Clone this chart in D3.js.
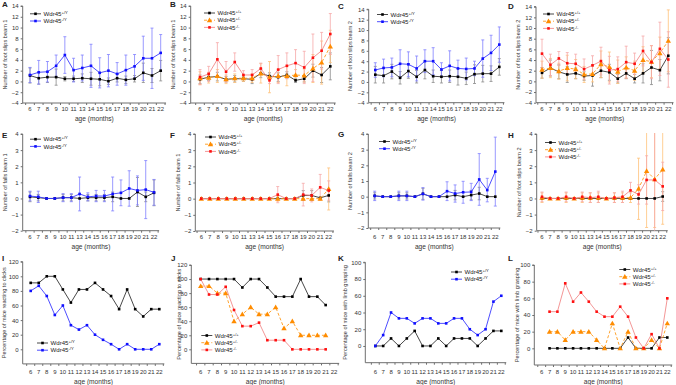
<!DOCTYPE html>
<html><head><meta charset="utf-8">
<script src="https://cdn.jsdelivr.net/npm/d3@7"></script>
<style>
html,body{margin:0;padding:0;background:#fff;}
svg{display:block;font-family:"Liberation Sans",Arial,sans-serif;}
</style></head>
<body>
<svg id="c" width="676" height="385"></svg>
<script>
// ---------- categories ----------
const monthsR12 = [6,7,8,9,10,11,13,14,15,16,17,18,19,20,21,22];
const monthsR3  = [6,7,8,9,10,11,12,13,14,15,16,17,18,19,20,21,22];
const ticksSlips = [-4,-2,0,2,4,6,8,10,12,14];
const ticksFalls = [-2,-1,0,1,2,3,4];
const ticksPct120 = [0,20,40,60,80,100,120];
const ticksPct100 = [0,20,40,60,80,100];

// ---------- A: foot slips beam 1 (hemizygous) ----------
const A_wt    = [1.1,0.6,0.8,0.8,0.5,0.5,0.6,0.5,0.4,0.05,0.6,0.3,0.5,1.6,1.1,2.0];
const A_wt_sd = [1.4,1.1,1.0,1.5,0.4,0.5,0.8,1.2,1.2,0.6,0.7,0.7,0.6,1.8,1.3,1.9];
const A_ko    = [1.2,1.7,1.8,2.9,4.9,2.1,2.5,2.9,1.6,2.0,1.4,2.1,2.8,4.3,4.3,5.3];
const A_ko_sd = [1.4,2.2,1.9,2.0,3.4,2.2,2.4,4.0,2.8,3.0,2.1,2.8,2.2,4.1,5.6,3.4];
// ---------- B: foot slips beam 1 (females) ----------
const B_wt     = [0.4,0.8,0.9,0.4,0.5,0.5,0.4,1.5,1.0,0.8,1.2,0.2,0.5,2.0,1.2,2.8];
const B_wt_sd  = [0.8,0.6,0.8,0.5,0.6,0.5,0.8,0.8,0.6,0.8,0.6,0.4,0.6,1.2,1.4,2.5];
const B_het    = [0.6,0.7,1.0,0.4,0.6,0.6,0.6,1.5,0.8,1.0,1.0,1.2,1.1,2.4,3.5,6.5];
const B_het_sd = [1.2,1.0,1.2,0.8,0.8,0.6,0.8,1.8,2.9,1.2,1.8,1.0,1.2,2.6,4.0,3.0];
const B_ko     = [0.8,1.4,4.1,1.8,3.6,1.2,1.2,2.4,0.2,2.2,2.9,3.4,2.6,4.4,5.7,8.8];
const B_ko_sd  = [1.4,1.4,3.1,1.9,1.7,0.8,1.0,1.0,0.6,2.6,2.4,2.5,3.0,4.4,3.4,3.8];
// ---------- C: foot slips beam 2 (hemizygous) ----------
const C_wt    = [1.4,1.2,2.0,0.8,2.1,1.0,2.3,1.1,1.0,1.1,1.0,0.7,1.5,1.6,1.6,2.9];
const C_wt_sd = [1.6,1.4,1.4,1.2,1.4,1.2,1.7,1.2,1.2,1.2,1.6,1.2,1.8,1.6,1.5,1.6];
const C_ko    = [2.3,2.7,2.8,3.5,3.4,2.6,4.0,4.0,2.4,3.1,2.6,2.5,2.6,4.5,5.6,7.2];
const C_ko_sd = [1.4,1.7,1.8,2.7,2.4,2.4,2.2,2.6,1.3,2.9,1.6,2.1,1.4,3.6,3.4,3.4];
// ---------- D: foot slips beam 2 (females) ----------
const D_wt     = [1.6,2.5,1.8,1.3,1.5,1.0,1.1,2.0,1.7,0.5,1.5,0.5,1.5,2.6,2.1,4.8];
const D_wt_sd  = [1.0,1.5,1.3,1.5,1.0,0.8,2.0,1.3,1.5,0.8,1.0,0.8,1.8,3.2,2.0,3.4];
const D_het    = [2.2,2.5,1.9,2.5,2.3,1.3,1.4,3.2,2.7,1.8,2.6,2.0,4.0,3.7,5.3,7.6];
const D_het_sd = [1.6,1.8,1.5,2.4,1.8,1.5,1.5,2.5,2.8,2.2,2.0,1.8,2.5,3.0,3.0,5.8];
const D_ko     = [5.2,3.1,4.3,3.4,3.3,2.3,3.0,3.8,2.1,2.3,3.6,3.3,5.7,3.6,6.1,4.1];
const D_ko_sd  = [2.7,2.0,1.3,2.0,1.8,1.9,1.8,2.6,2.6,2.3,3.0,2.0,2.8,3.1,5.0,5.2];
// ---------- E: falls beam 1 (hemizygous) ----------
const E_wt    = [0.1,0.05,0,0,0.05,0.05,0,0.05,0.05,0.05,0.1,0,0,0.4,0.1,0.35];
const E_wt_sd = [0.3,0.2,0,0,0.2,0.2,0,0.2,0.2,0.2,0.3,0,0,0.9,0.3,0.8];
const E_ko    = [0.15,0.1,0,0,0.05,0.05,0.28,0.1,0.15,0.15,0.28,0.35,0.62,0.5,0.55,0.38];
const E_ko_sd = [0.3,0.35,0,0,0.25,0.25,1.05,0.25,0.35,0.35,1.05,0.8,1.1,0.9,1.8,0.8];
// ---------- F: falls beam 1 (females) ----------
const F_wt     = [0,0,0,0,0,0,0,0,0,0,0,0,0.2,0.2,0.05,0.2];
const F_wt_sd  = [0,0,0,0,0,0,0,0,0,0,0,0,0.3,0.3,0,0.4];
const F_het    = [0,0,0,0,0,0,0,0,0,0,0,0,0,0,0,0.6];
const F_het_sd = [0,0,0,0,0,0,0,0,0,0.15,0,0,0,0,0,1.3];
const F_ko     = [0,0,0,0,0,0,0,0,0,0.25,0,0,0.25,0.2,0.7,0.5];
const F_ko_sd  = [0,0,0,0,0,0,0,0,0,0.5,0,0,0.7,0.4,0.8,0.6];
// ---------- G: falls beam 2 (hemizygous) ----------
const G_wt    = [0.05,0,0,0.05,0.05,0,0.18,0,0,0,0.1,0,0.1,0.2,0,0];
const G_wt_sd = [0.2,0,0,0.2,0.2,0,0.35,0,0,0,0.3,0,0.3,0.4,0,0];
const G_ko    = [0.05,0,0,0.05,0.05,0,0.18,0,0,0.35,0.2,0.28,0.3,1.1,0.42,1.6];
const G_ko_sd = [0.3,0,0,0.3,0.3,0,0.4,0,0,0.6,0.55,0.7,0.55,1.65,0.75,2.2];
// ---------- H: beam 2 (females) ----------
const H_wt     = [0,0,0,0,0,0,0,0,0,0,0,0,0,0,0,0.12];
const H_wt_sd  = [0,0,0,0,0,0,0,0,0,0,0,0,0,0,0,0.3];
const H_het    = [0.05,0,0,0.05,0,0.05,0.05,0.05,0,0.05,0.05,0.05,0.6,1.7,1.2,1.8];
const H_het_sd = [0.3,0,0,0.3,0,0.3,0.3,0.3,0,0.3,0.3,0.3,1.9,3.5,3.0,3.4];
const H_ko     = [0.1,0,0,0.1,0,0.1,0.05,0.1,0,0.05,0.1,0.5,0.25,1.15,1.15,0.75];
const H_ko_sd  = [0.3,0,0,0.3,0,0.3,0.3,0.35,0,0.3,0.35,0.5,0.6,1.5,3.5,1.5];
// ---------- I-L: percentages ----------
const I_wt  = [91,91,100,100,82,64,82,82,91,82,73,55,82,55,45,55,55];
const I_ko  = [80,87,73,47,60,33,27,33,20,13,7,0,7,0,0,0,7];
const J_wt  = [100,100,100,100,100,88,100,100,88,75,75,75,100,75,75,63,null];
const J_het = [90,90,80,80,40,50,60,50,50,60,30,40,20,20,20,20,null];
const J_ko  = [100,78,78,89,56,33,33,38,13,13,13,0,0,0,0,0,null];
const K_wt  = [0,0,9,0,9,18,0,0,9,0,9,9,9,0,9,18,18];
const K_ko  = [0,13,40,33,33,27,33,33,27,27,33,33,20,13,20,53,60];
const L_wt  = [null,0,0,0,0,0,0,0,0,0,0,13,0,0,0,13,13];
const L_het = [null,20,20,10,20,20,20,10,0,30,0,20,0,0,10,0,30];
const L_ko  = [null,44,44,78,56,67,56,44,38,38,50,38,13,0,17,0,60];

// ---------- styles ----------
const STY = {
  wt:  {line:"#333", mark:"#000", err:"#8a8a8a", shape:"sq", dash:null},
  hko: {line:"#3a3aff", mark:"#1010ff", err:"#8080ff", shape:"sq", dash:null},
  het: {line:"#ff9a1a", mark:"#ff8c00", err:"#ffc27a", shape:"tri", dash:"3,2"},
  ko:  {line:"#f28a8a", mark:"#ff1010", err:"#f6a8a8", shape:"sq", dash:null}
};
const LEG_H = [["wt","+/Y"],["hko","-/Y"]];
const LEG_F = [["wt","+/+"],["het","+/-"],["ko","-/-"]];

const panels = [
 {id:"A", cats:monthsR12, dom:[-4,14], ticks:ticksSlips, title:"Number of foot slips beam 1",
  ax:22.7, x0:30, x1:160.7, yt:6, yb:103, tx:5, lab:[2,7], xl:108.5, xt:118.5,
  leg:{x:30, y:13.8, items:LEG_H},
  series:[["wt",A_wt,A_wt_sd],["hko",A_ko,A_ko_sd]]},
 {id:"B", cats:monthsR12, dom:[-4,14], ticks:ticksSlips, title:"Number of foot slips beam 1",
  ax:190.7, x0:200, x1:330.3, yt:6, yb:103, tx:173, lab:[170,7], xl:108.5, xt:118.5,
  leg:{x:204, y:13, items:LEG_F},
  series:[["wt",B_wt,B_wt_sd],["het",B_het,B_het_sd],["ko",B_ko,B_ko_sd]]},
 {id:"C", cats:monthsR12, dom:[-4,14], ticks:ticksSlips, title:"Number of foot slips beam 2",
  ax:368.7, x0:375.3, x1:499.3, yt:9.3, yb:102.7, tx:350, lab:[338,9], xl:108.5, xt:118.5,
  leg:{x:377, y:14.5, items:LEG_H},
  series:[["wt",C_wt,C_wt_sd],["hko",C_ko,C_ko_sd]]},
 {id:"D", cats:monthsR12, dom:[-4,14], ticks:ticksSlips, title:"Number of foot slips beam 2",
  ax:536, x0:542, x1:668.3, yt:6.7, yb:102.7, tx:518, lab:[508,9], xl:108.5, xt:118.5,
  leg:{x:543, y:14, items:LEG_F},
  series:[["wt",D_wt,D_wt_sd],["het",D_het,D_het_sd],["ko",D_ko,D_ko_sd]]},
 {id:"E", cats:monthsR12, dom:[-2,4], ticks:ticksFalls, title:"Number of falls beam 1",
  ax:22.7, x0:30, x1:154, yt:134, yb:230.7, tx:5, lab:[2,138], xl:236.5, xt:246.5,
  leg:{x:30, y:139.2, items:LEG_H},
  series:[["wt",E_wt,E_wt_sd],["hko",E_ko,E_ko_sd]]},
 {id:"F", cats:monthsR12, dom:[-2,4], ticks:ticksFalls, title:"Number of falls beam 1",
  ax:195.3, x0:201.3, x1:328.7, yt:134, yb:231, tx:178, lab:[170,138], xl:236.5, xt:246.5,
  leg:{x:205, y:137, items:LEG_F},
  series:[["wt",F_wt,F_wt_sd],["het",F_het,F_het_sd],["ko",F_ko,F_ko_sd]]},
 {id:"G", cats:monthsR12, dom:[-2,4], ticks:ticksFalls, title:"Number of falls beam 2",
  ax:368.3, x0:374.7, x1:495.3, yt:134, yb:228, tx:350, lab:[338,137], xl:236.5, xt:246.5,
  leg:{x:379, y:141.5, items:LEG_H},
  series:[["wt",G_wt,G_wt_sd],["hko",G_ko,G_ko_sd]]},
 {id:"H", cats:monthsR12, dom:[-2,4], ticks:ticksFalls, title:"Number of foot slips beam 2",
  ax:536.7, x0:542, x1:662.7, yt:134, yb:230.7, tx:519, lab:[508,138], xl:236.5, xt:246.5,
  leg:{x:545, y:142.5, items:LEG_F},
  series:[["wt",H_wt,H_wt_sd],["het",H_het,H_het_sd],["ko",H_ko,H_ko_sd]]},
 {id:"I", cats:monthsR3, dom:[-20,120], ticks:ticksPct120, title:"Percentage of mice reacting to clicks",
  ax:22.7, x0:30.7, x1:159.3, yt:261.7, yb:363.9, tx:4, lab:[2,261], xl:372, xt:381.5,
  leg:{x:37, y:343, items:LEG_H},
  series:[["wt",I_wt],["hko",I_ko]]},
 {id:"J", cats:monthsR3, dom:[-20,120], ticks:ticksPct120, title:"Percentage of mice reacting to clicks",
  ax:191.3, x0:200.7, x1:334, yt:265, yb:363.4, tx:178.5, lab:[171,261], xl:372, xt:381.5,
  leg:{x:201.3, y:335.5, items:LEG_F},
  series:[["wt",J_wt],["het",J_het],["ko",J_ko]]},
 {id:"K", cats:monthsR3, dom:[-20,100], ticks:ticksPct100, title:"Percentage of mice with limb grasping",
  ax:365.3, x0:375.3, x1:501.3, yt:262.3, yb:362.7, tx:345, lab:[338,261], xl:372, xt:381.5,
  leg:{x:451, y:272, items:LEG_H},
  series:[["wt",K_wt],["hko",K_ko]]},
 {id:"L", cats:monthsR3, dom:[-20,100], ticks:ticksPct100, title:"Percentage of mice with limb grasping",
  ax:534.3, x0:541.7, x1:667.3, yt:265, yb:365, tx:516.5, lab:[508,261], xl:372, xt:381.5,
  leg:{x:619.3, y:269.5, items:LEG_F},
  series:[["wt",L_wt],["het",L_het],["ko",L_ko]]}
];

const svg = d3.select("#c");
const AX = "#6e6e6e";
const LEG_DY = 7.2;

function marker(g, shape, x, y, color, s){
  if(shape==="tri"){
    const r = s*0.75;
    g.append("path").attr("d",`M${x},${y-r}L${x+r},${y+r*0.75}L${x-r},${y+r*0.75}Z`).attr("fill",color);
  } else {
    g.append("rect").attr("x",x-s/2).attr("y",y-s/2).attr("width",s).attr("height",s).attr("fill",color);
  }
}

panels.forEach((p,pi)=>{
  const g = svg.append("g");
  const x = d3.scalePoint().domain(p.cats.map(String)).range([p.x0,p.x1]);
  const step = x.step();
  const topVal = p.ticks[p.ticks.length-1];
  const y = d3.scaleLinear().domain([p.dom[0], topVal]).range([p.yb, p.yt]);
  const xEnd = p.x1 + step/2 + 1;

  const cid = "clip"+pi;
  g.append("clipPath").attr("id",cid).append("rect")
    .attr("x",p.ax).attr("y",p.yt-1).attr("width",xEnd-p.ax+4).attr("height",p.yb-p.yt+1);

  // y axis
  const ya = d3.axisLeft(y).tickValues(p.ticks).tickSize(2).tickPadding(2).tickFormat(d3.format("d"));
  const yg = g.append("g").attr("transform",`translate(${p.ax},0)`).call(ya);
  yg.select(".domain").attr("stroke",AX).attr("d",`M-2,${p.yt}H0V${p.yb}`);
  yg.selectAll(".tick line").attr("stroke",AX);
  yg.selectAll(".tick text").attr("font-size",6).attr("fill","#333").attr("font-family","Liberation Sans, Arial, sans-serif");
  // x axis
  g.append("line").attr("x1",p.ax).attr("x2",xEnd).attr("y1",p.yb).attr("y2",p.yb).attr("stroke",AX).attr("stroke-width",1);
  const bnd = p.cats.map(c=>x(String(c))-step/2).concat([p.x1+step/2]);
  g.selectAll(null).data(bnd).enter().append("line")
    .attr("x1",d=>d).attr("x2",d=>d).attr("y1",p.yb).attr("y2",p.yb+2).attr("stroke",AX);
  g.selectAll(null).data(p.cats).enter().append("text")
    .attr("x",d=>x(String(d))).attr("y",p.xl+2).attr("text-anchor","middle")
    .attr("font-size",6).attr("fill","#333").text(d=>d);
  g.append("text").attr("x",(p.ax+xEnd)/2).attr("y",p.xt+2.3).attr("text-anchor","middle")
    .attr("font-size",6.6).attr("fill","#333").text("age (months)");
  // y title
  g.append("text").attr("transform",`translate(${p.tx+2},${(p.yt+p.yb)/2}) rotate(-90)`)
    .attr("text-anchor","middle").attr("font-size",5.6).attr("fill","#333").text(p.title);
  // panel letter
  g.append("text").attr("x",p.lab[0]).attr("y",p.lab[1]).attr("font-size",8).attr("font-weight","bold").attr("fill","#222").text(p.id);

  const pg = g.append("g").attr("clip-path",`url(#${cid})`);
  p.series.forEach(([k,vals,sd])=>{
    if(!sd) return;
    const st = STY[k];
    vals.forEach((v,i)=>{
      if(v==null || !sd[i]) return;
      const cx = x(String(p.cats[i]));
      const y1 = y(v+sd[i]), y2 = y(v-sd[i]);
      pg.append("line").attr("x1",cx).attr("x2",cx).attr("y1",y1).attr("y2",y2).attr("stroke",st.err).attr("stroke-width",0.8);
      [y1,y2].forEach(yy=>pg.append("line").attr("x1",cx-1.5).attr("x2",cx+1.5).attr("y1",yy).attr("y2",yy).attr("stroke",st.err).attr("stroke-width",0.8));
    });
  });
  p.series.forEach(([k,vals])=>{
    const st = STY[k];
    const pts = vals.map((v,i)=>v==null?null:[x(String(p.cats[i])), y(v)]).filter(d=>d);
    pg.append("path").attr("d",d3.line()(pts)).attr("fill","none").attr("stroke",st.line)
      .attr("stroke-width",0.9).attr("stroke-dasharray",st.dash);
    pts.forEach(([px,py])=>marker(pg, st.shape, px, py, st.mark, st.shape==="tri"?3.6:2.6));
  });
  // legend
  p.leg.items.forEach(([k,sup],i)=>{
    const st = STY[k];
    const ly = p.leg.y + i*LEG_DY;
    const lx = p.leg.x;
    g.append("line").attr("x1",lx).attr("x2",lx+11).attr("y1",ly).attr("y2",ly).attr("stroke",st.line)
      .attr("stroke-width",0.9).attr("stroke-dasharray",st.dash);
    marker(g, st.shape, lx+5.5, ly, st.mark, st.shape==="tri"?3.6:2.6);
    const t = g.append("text").attr("x",lx+13.5).attr("y",ly+2.2).attr("font-size",6.1).attr("fill","#222");
    t.append("tspan").text("Wdr45");
    t.append("tspan").attr("font-size",4.2).attr("dy",-2.0).text(sup);
  });
});
</script>
</body></html>
